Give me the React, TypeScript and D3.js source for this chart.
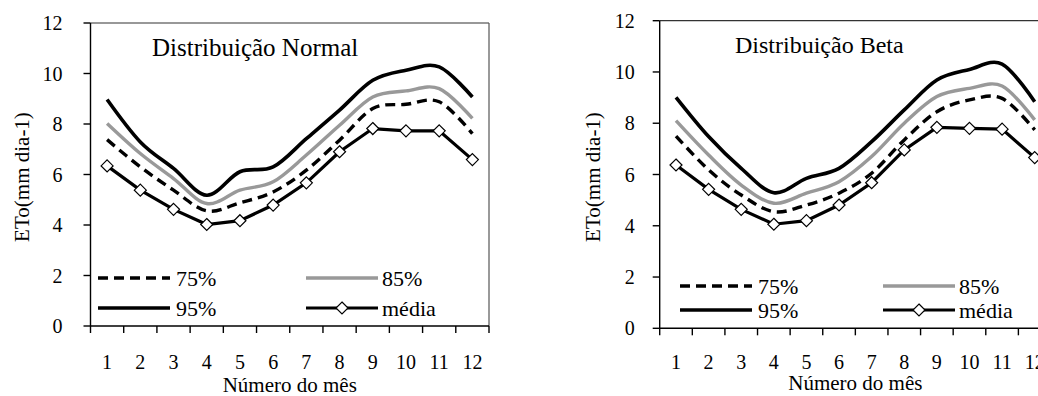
import React from 'react';
import * as d3 from 'd3';

// months on the x axis
const months = ['1', '2', '3', '4', '5', '6', '7', '8', '9', '10', '11', '12'];
const yTicks = [0, 2, 4, 6, 8, 10, 12];

// Distribuição Normal
const normal75 = [7.38, 6.3, 5.38, 4.56, 4.88, 5.31, 6.17, 7.36, 8.61, 8.78, 8.88, 7.62];
const normal85 = [8.02, 6.83, 5.84, 4.85, 5.38, 5.71, 6.77, 7.95, 9.07, 9.31, 9.4, 8.22];
const normal95 = [8.97, 7.29, 6.24, 5.18, 6.11, 6.3, 7.42, 8.55, 9.73, 10.13, 10.26, 9.07];
const normalMedia = [6.34, 5.38, 4.62, 4.02, 4.17, 4.79, 5.67, 6.9, 7.82, 7.73, 7.73, 6.59];

// Distribuição Beta
const beta75 = [7.5, 6.18, 5.2, 4.55, 4.81, 5.27, 6.05, 7.35, 8.45, 8.91, 8.97, 7.74];
const beta85 = [8.1, 6.76, 5.59, 4.88, 5.27, 5.72, 6.7, 8.0, 9.04, 9.36, 9.45, 8.13];
const beta95 = [9.01, 7.48, 6.24, 5.29, 5.85, 6.24, 7.28, 8.52, 9.69, 10.1, 10.31, 8.84];
const betaMedia = [6.37, 5.42, 4.64, 4.06, 4.2, 4.81, 5.68, 6.96, 7.84, 7.8, 7.77, 6.66];

// no letter-spacing: it makes the text fall back to a sans face here
const FONT = 'Liberation Serif';

interface PanelProps {
  title: string;
  s75: number[];
  s85: number[];
  s95: number[];
  media: number[];
  left: number;
  right: number;
  top: number;
  bottom: number;
  titleX: number;
  titleY: number;
  titleSize: number;
  xLabelY: number;
  yLabelX: number;
  legY: [number, number];
  legX: [number, number];
  tickLabelDx: number;
  tickLabelDy: number;
}

const diamond = (x: number, y: number, r: number) =>
  `M${x},${y - r}L${x + r},${y}L${x},${y + r}L${x - r},${y}Z`;

const Panel: React.FC<PanelProps> = (p) => {
  const x = d3.scaleBand<string>().domain(months).range([p.left, p.right]);
  const y = d3.scaleLinear().domain([0, 12]).range([p.bottom, p.top]);
  const cx = (i: number) => (x(months[i]) || 0) + x.bandwidth() / 2;

  const smooth = d3.line<number>()
    .x((_, i) => cx(i))
    .y(d => y(d))
    .curve(d3.curveCardinal.tension(0));
  const straight = d3.line<number>()
    .x((_, i) => cx(i))
    .y(d => y(d));

  const xEdges = [...months.map(m => x(m) || 0), p.right];
  const legLen = 72;

  return (
    <g fill="#000">
      {/* plot border */}
      <line x1={p.left} x2={p.right} y1={p.top} y2={p.top} stroke="#333" strokeWidth={1.2} />
      <line x1={p.right} x2={p.right} y1={p.top} y2={p.bottom} stroke="#555" strokeWidth={1.2} />

      {/* lines */}
      <path d={smooth(p.s95) || ''} fill="none" stroke="#000" strokeWidth={3.6} />
      <path d={smooth(p.s85) || ''} fill="none" stroke="#999" strokeWidth={3.4} />
      <path d={smooth(p.s75) || ''} fill="none" stroke="#000" strokeWidth={3.4} strokeDasharray="10 6" />
      <path d={straight(p.media) || ''} fill="none" stroke="#000" strokeWidth={3.2} />
      {p.media.map((v, i) => (
        <path key={i} d={diamond(cx(i), y(v), 6)} fill="#fff" stroke="#000" strokeWidth={1.2} />
      ))}

      {/* axes */}
      <line x1={p.left} x2={p.left} y1={p.top} y2={p.bottom} stroke="#000" strokeWidth={1.4} />
      <line x1={p.left} x2={p.right} y1={p.bottom} y2={p.bottom} stroke="#000" strokeWidth={1.4} />
      {yTicks.map(t => (
        <g key={t}>
          <line x1={p.left - 7} x2={p.left} y1={y(t)} y2={y(t)} stroke="#000" strokeWidth={1.4} />
          <text fontFamily={FONT} x={p.left - p.tickLabelDx} y={y(t)} dy="0.35em" textAnchor="end" fontSize={20}>{t}</text>
        </g>
      ))}
      {xEdges.map((e, i) => (
        <line key={i} x1={e} x2={e} y1={p.bottom} y2={p.bottom + 7} stroke="#000" strokeWidth={1.4} />
      ))}
      {months.map((m, i) => (
        <text fontFamily={FONT} key={m} x={cx(i)} y={p.bottom + p.tickLabelDy} dy="0.35em" textAnchor="middle" fontSize={20}>{m}</text>
      ))}

      {/* axis titles */}
      <text fontFamily={FONT} x={(p.left + p.left + 12 * x.bandwidth()) / 2} y={p.xLabelY} dy="0.3em" textAnchor="middle" fontSize={21}>Número do mês</text>
      <text fontFamily={FONT} transform={`translate(${p.yLabelX},177) rotate(-90)`} dy="0.35em" textAnchor="middle" fontSize={21}>ETo(mm dia-1)</text>

      {/* title */}
      <text fontFamily={FONT} x={p.titleX} y={p.titleY} dy="0.35em" fontSize={p.titleSize}>{p.title}</text>

      {/* legend */}
      <line x1={p.legX[0]} x2={p.legX[0] + legLen} y1={p.legY[0]} y2={p.legY[0]} stroke="#000" strokeWidth={3.4} strokeDasharray="10 6" />
      <text fontFamily={FONT} x={p.legX[0] + legLen + 6} y={p.legY[0]} dy="0.35em" fontSize={22}>75%</text>
      <line x1={p.legX[1]} x2={p.legX[1] + legLen} y1={p.legY[0]} y2={p.legY[0]} stroke="#999" strokeWidth={3.4} />
      <text fontFamily={FONT} x={p.legX[1] + legLen + 4} y={p.legY[0]} dy="0.35em" fontSize={22}>85%</text>
      <line x1={p.legX[0]} x2={p.legX[0] + legLen} y1={p.legY[1]} y2={p.legY[1]} stroke="#000" strokeWidth={3.6} />
      <text fontFamily={FONT} x={p.legX[0] + legLen + 6} y={p.legY[1]} dy="0.35em" fontSize={22}>95%</text>
      <line x1={p.legX[1]} x2={p.legX[1] + legLen} y1={p.legY[1]} y2={p.legY[1]} stroke="#000" strokeWidth={3.2} />
      <path d={diamond(p.legX[1] + legLen / 2, p.legY[1], 6)} fill="#fff" stroke="#000" strokeWidth={1.2} />
      <text fontFamily={FONT} x={p.legX[1] + legLen + 4} y={p.legY[1]} dy="0.35em" fontSize={22}>média</text>
    </g>
  );
};

export default function App() {
  return (
    <div style={{ position: 'absolute', left: 0, top: 0, width: 1038, height: 396, background: '#fff' }}>
      <svg width={1038} height={396} style={{ display: 'block' }}>
        <rect width={1038} height={396} fill="#fff" />
        <Panel
          title="Distribuição Normal" titleSize={25}
          s75={normal75} s85={normal85} s95={normal95} media={normalMedia}
          left={90.5} right={489} top={23} bottom={326}
          titleX={152} titleY={47} xLabelY={386} yLabelX={22}
          legY={[278, 308]} legX={[98, 306]} tickLabelDx={28} tickLabelDy={36}
        />
        <Panel
          title="Distribuição Beta" titleSize={24}
          s75={beta75} s85={beta85} s95={beta95} media={betaMedia}
          left={659.7} right={1051} top={20.7} bottom={328.3}
          titleX={735} titleY={45} xLabelY={384} yLabelX={593}
          legY={[286, 310]} legX={[680, 883]} tickLabelDx={25} tickLabelDy={34}
        />
      </svg>
    </div>
  );
}
